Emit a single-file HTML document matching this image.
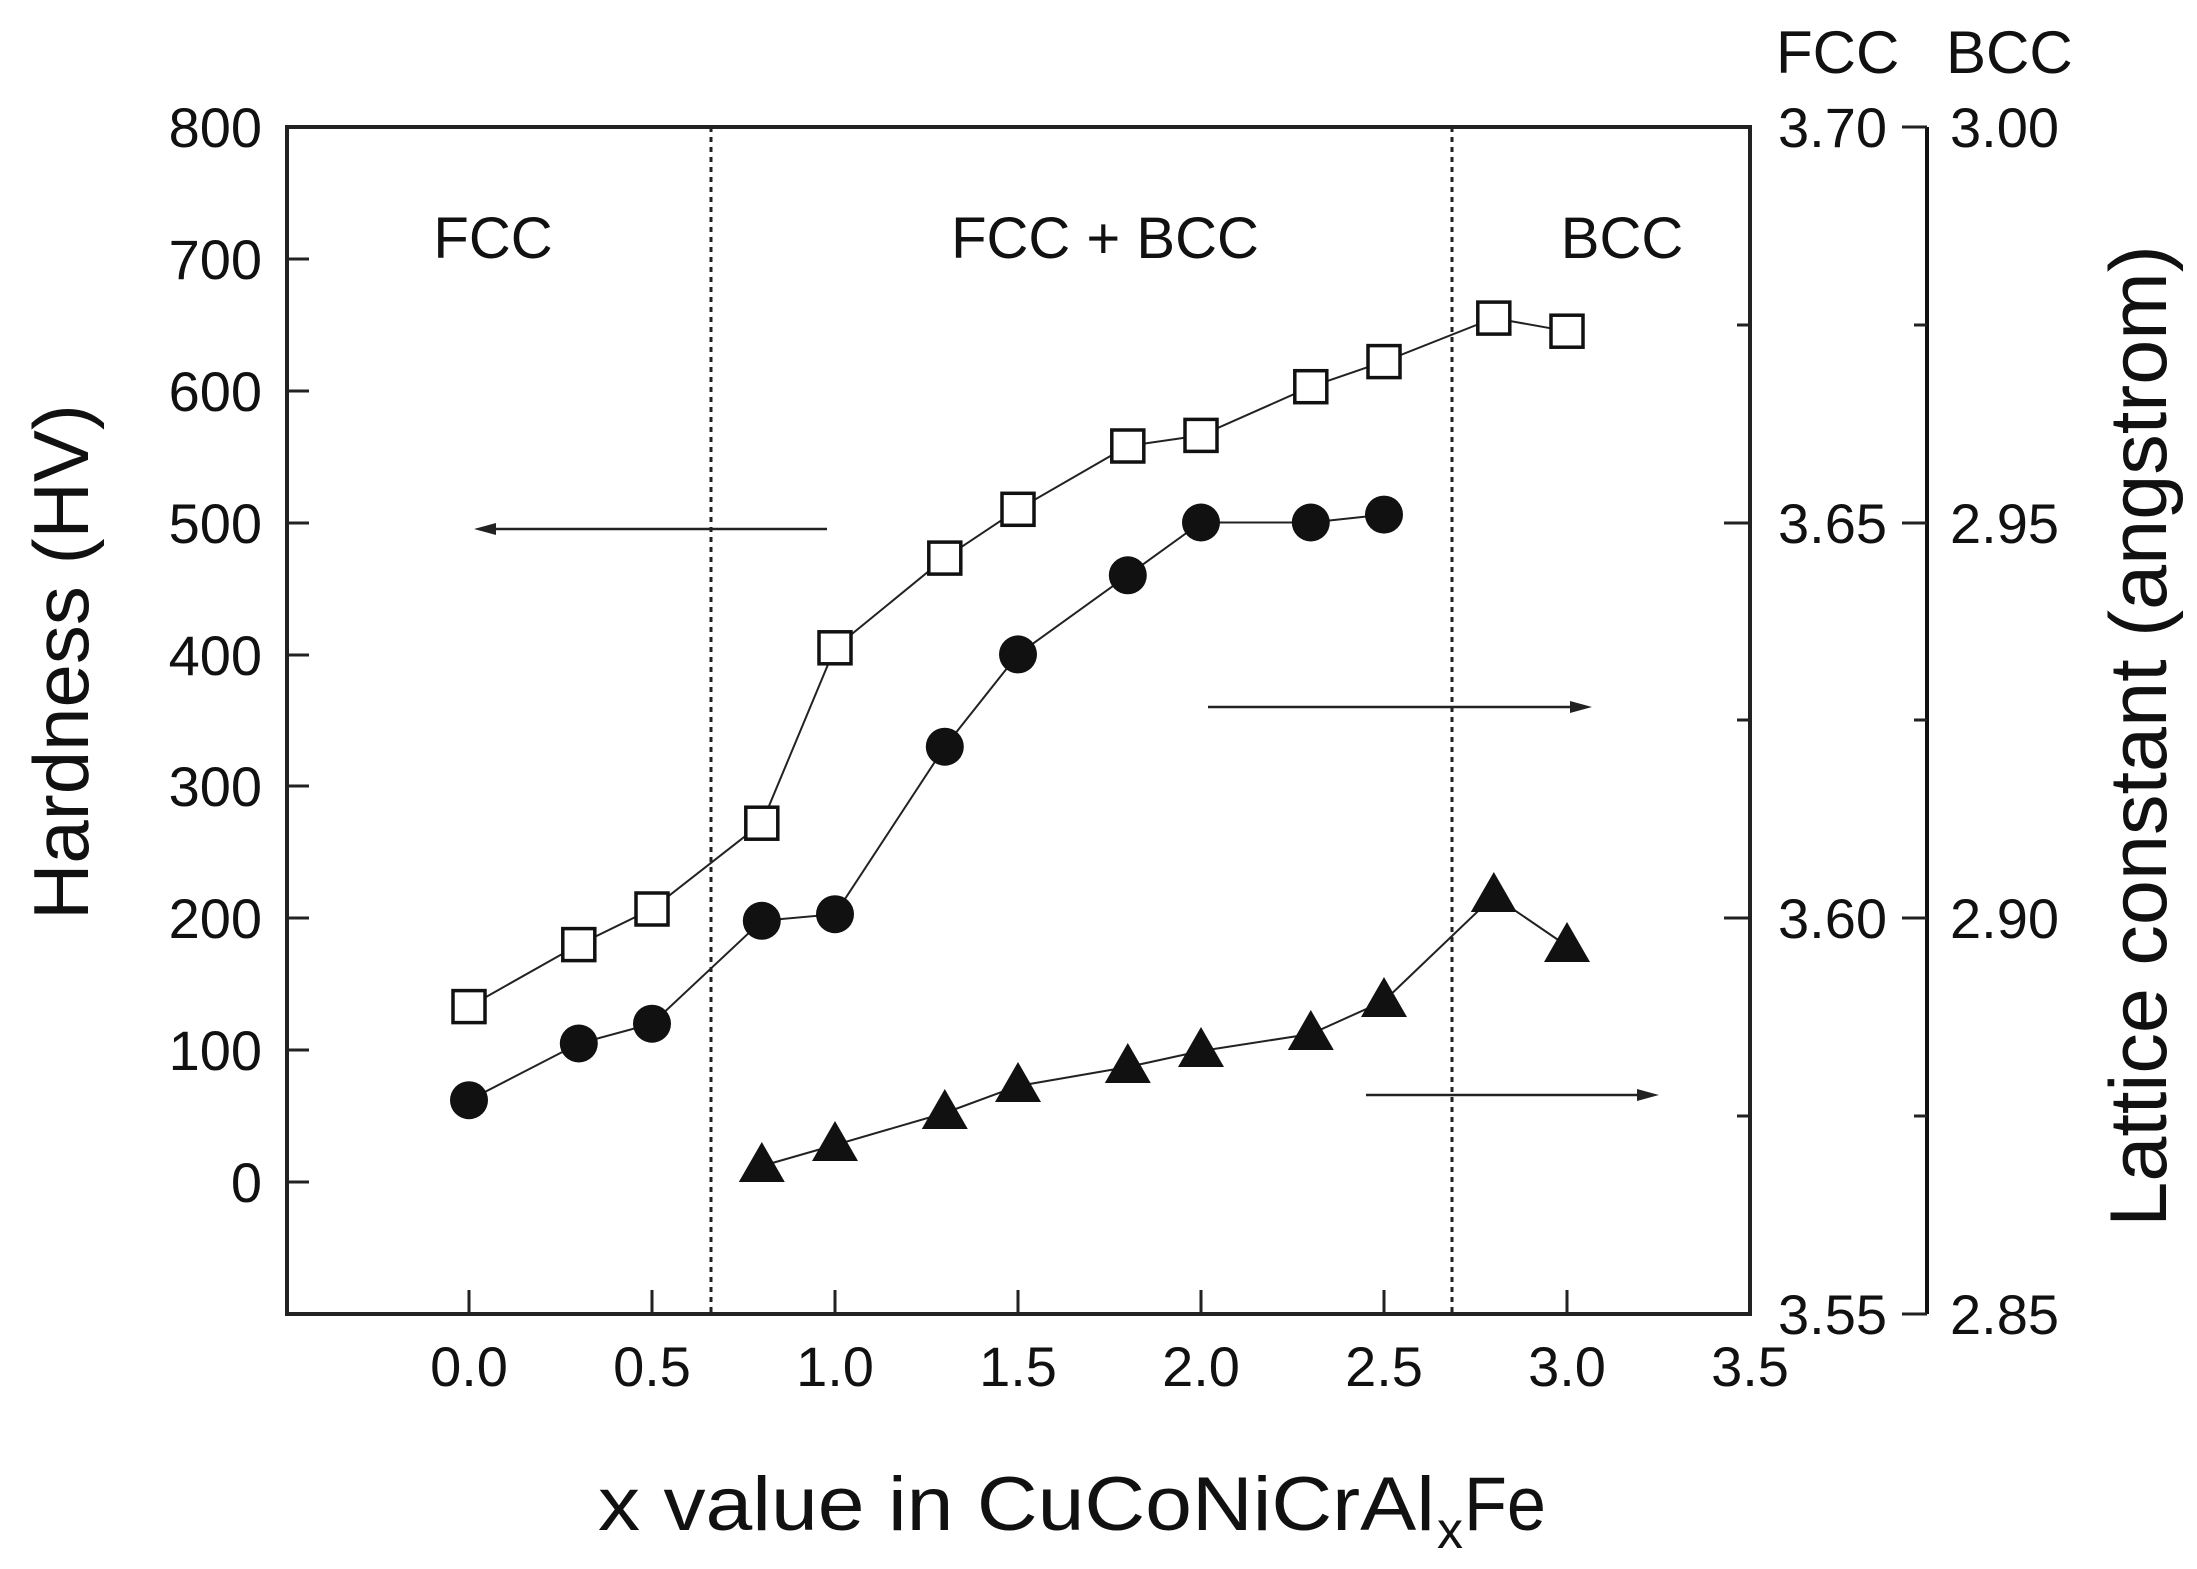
<!DOCTYPE html>
<html><head><meta charset="utf-8"><style>html,body{margin:0;padding:0;background:#fff}svg{display:block}</style></head>
<body>
<svg width="2197" height="1569" viewBox="0 0 2197 1569" xmlns="http://www.w3.org/2000/svg" font-family="Liberation Sans, sans-serif" fill="#111">
<rect width="2197" height="1569" fill="#fff"/>
<rect x="287" y="127" width="1463" height="1187" fill="none" stroke="#222" stroke-width="4"/>
<line x1="1927" y1="127" x2="1927" y2="1314" stroke="#111" stroke-width="4"/>
<g stroke="#222" stroke-width="3">
<line x1="287" y1="127" x2="309" y2="127"/><line x1="287" y1="259" x2="309" y2="259"/><line x1="287" y1="391" x2="309" y2="391"/><line x1="287" y1="523" x2="309" y2="523"/><line x1="287" y1="655" x2="309" y2="655"/><line x1="287" y1="786" x2="309" y2="786"/><line x1="287" y1="918" x2="309" y2="918"/><line x1="287" y1="1050" x2="309" y2="1050"/><line x1="287" y1="1182" x2="309" y2="1182"/>
<line x1="469" y1="1314" x2="469" y2="1290"/><line x1="652" y1="1314" x2="652" y2="1290"/><line x1="835" y1="1314" x2="835" y2="1290"/><line x1="1018" y1="1314" x2="1018" y2="1290"/><line x1="1201" y1="1314" x2="1201" y2="1290"/><line x1="1384" y1="1314" x2="1384" y2="1290"/><line x1="1567" y1="1314" x2="1567" y2="1290"/>
<line x1="1750" y1="127" x2="1724" y2="127"/><line x1="1750" y1="523" x2="1724" y2="523"/><line x1="1750" y1="918" x2="1724" y2="918"/><line x1="1750" y1="1314" x2="1724" y2="1314"/>
<line x1="1750" y1="325" x2="1737" y2="325"/><line x1="1750" y1="720" x2="1737" y2="720"/><line x1="1750" y1="1116" x2="1737" y2="1116"/>
<line x1="1927" y1="127" x2="1902" y2="127"/><line x1="1927" y1="523" x2="1902" y2="523"/><line x1="1927" y1="918" x2="1902" y2="918"/><line x1="1927" y1="1314" x2="1902" y2="1314"/>
<line x1="1927" y1="325" x2="1914" y2="325"/><line x1="1927" y1="720" x2="1914" y2="720"/><line x1="1927" y1="1116" x2="1914" y2="1116"/>
</g>
<g stroke="#222" stroke-width="3" stroke-dasharray="5,5">
<line x1="711" y1="127" x2="711" y2="1312"/><line x1="1452" y1="127" x2="1452" y2="1312"/>
</g>
<g font-size="56" text-anchor="end">
<text x="262" y="147">800</text><text x="262" y="279">700</text><text x="262" y="411">600</text><text x="262" y="543">500</text><text x="262" y="675">400</text><text x="262" y="806">300</text><text x="262" y="938">200</text><text x="262" y="1070">100</text><text x="262" y="1202">0</text>
</g>
<g font-size="56" text-anchor="middle">
<text x="469" y="1386">0.0</text><text x="652" y="1386">0.5</text><text x="835" y="1386">1.0</text><text x="1018" y="1386">1.5</text><text x="1201" y="1386">2.0</text><text x="1384" y="1386">2.5</text><text x="1567" y="1386">3.0</text><text x="1750" y="1386">3.5</text>
</g>
<g font-size="56">
<text x="1778" y="147">3.70</text><text x="1778" y="543">3.65</text><text x="1778" y="938">3.60</text><text x="1778" y="1334">3.55</text>
<text x="1950" y="147">3.00</text><text x="1950" y="543">2.95</text><text x="1950" y="938">2.90</text><text x="1950" y="1334">2.85</text>
<text x="1776" y="73" font-size="60">FCC</text><text x="1946" y="73" font-size="60">BCC</text>
</g>
<g font-size="58" text-anchor="middle">
<text x="493" y="258">FCC</text><text x="1105" y="258">FCC + BCC</text><text x="1622" y="258">BCC</text>
</g>
<text x="598" y="1530" font-size="76" textLength="837" lengthAdjust="spacingAndGlyphs">x value in CuCoNiCrAl</text>
<text x="1437" y="1548" font-size="52">x</text>
<text x="1464" y="1530" font-size="76" textLength="82" lengthAdjust="spacingAndGlyphs">Fe</text>
<text transform="translate(88,662) rotate(-90)" font-size="78" text-anchor="middle">Hardness (HV)</text>
<text transform="translate(2166,736) rotate(-90)" font-size="81" text-anchor="middle">Lattice constant (angstrom)</text>
<g stroke="#222" stroke-width="2.5">
<line x1="827" y1="529" x2="490" y2="529"/><line x1="1208" y1="707" x2="1576" y2="707"/><line x1="1366" y1="1095" x2="1643" y2="1095"/>
</g>
<polygon points="474,529 496,523 496,535" fill="#222"/>
<polygon points="1592,707 1570,701 1570,713" fill="#222"/>
<polygon points="1659,1095 1637,1089 1637,1101" fill="#222"/>
<g fill="none" stroke="#222" stroke-width="2">
<polyline points="469,1006.6 578.8,944.6 652,909 761.8,823.2 835,647.8 944.8,558.1 1018,509.3 1127.8,446 1201,435.4 1310.8,386.7 1384,361.6 1493.8,318.1 1567,331.2"/>
<polyline points="469,1100.2 578.8,1043.5 652,1023.7 761.8,920.8 835,914.2 944.8,746.7 1018,654.4 1127.8,575.3 1201,522.5 1310.8,522.5 1384,514.6"/>
<polyline points="761.8,1166 835,1145 944.8,1113 1018,1086 1127.8,1067 1201,1051 1310.8,1034 1384,1001 1493.8,896 1567,946"/>
</g>
<g fill="#fff" stroke="#111" stroke-width="3.5">
<rect x="453" y="990.6" width="32" height="32"/><rect x="562.8" y="928.6" width="32" height="32"/><rect x="636" y="893" width="32" height="32"/><rect x="745.8" y="807.2" width="32" height="32"/><rect x="819" y="631.8" width="32" height="32"/><rect x="928.8" y="542.1" width="32" height="32"/><rect x="1002" y="493.3" width="32" height="32"/><rect x="1111.8" y="430" width="32" height="32"/><rect x="1185" y="419.4" width="32" height="32"/><rect x="1294.8" y="370.7" width="32" height="32"/><rect x="1368" y="345.6" width="32" height="32"/><rect x="1477.8" y="302.1" width="32" height="32"/><rect x="1551" y="315.2" width="32" height="32"/>
</g>
<g fill="#111">
<circle cx="469" cy="1100.2" r="19"/><circle cx="578.8" cy="1043.5" r="19"/><circle cx="652" cy="1023.7" r="19"/><circle cx="761.8" cy="920.8" r="19"/><circle cx="835" cy="914.2" r="19"/><circle cx="944.8" cy="746.7" r="19"/><circle cx="1018" cy="654.4" r="19"/><circle cx="1127.8" cy="575.3" r="19"/><circle cx="1201" cy="522.5" r="19"/><circle cx="1310.8" cy="522.5" r="19"/><circle cx="1384" cy="514.6" r="19"/>
</g>
<g fill="#111">
<polygon points="761.8,1142 738.8,1182 784.8,1182"/>
<polygon points="835,1121 812,1161 858,1161"/>
<polygon points="944.8,1089 921.8,1129 967.8,1129"/>
<polygon points="1018,1062 995,1102 1041,1102"/>
<polygon points="1127.8,1043 1104.8,1083 1150.8,1083"/>
<polygon points="1201,1027 1178,1067 1224,1067"/>
<polygon points="1310.8,1010 1287.8,1050 1333.8,1050"/>
<polygon points="1384,977 1361,1017 1407,1017"/>
<polygon points="1493.8,872 1470.8,912 1516.8,912"/>
<polygon points="1567,922 1544,962 1590,962"/>
</g>
</svg>
</body></html>
